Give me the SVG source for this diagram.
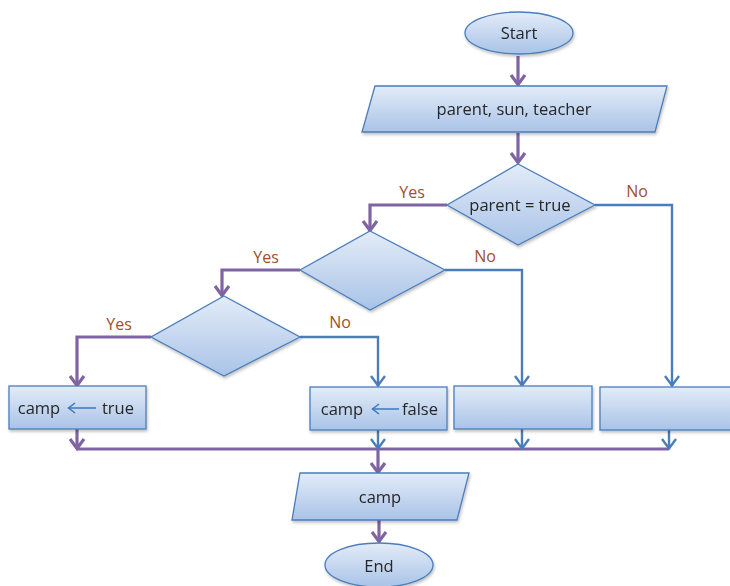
<svg xmlns="http://www.w3.org/2000/svg" width="730" height="586" viewBox="0 0 730 586">
<style>
.shape{fill:url(#g);stroke:#4a7ebb;stroke-width:1.3}
.t{font-family:"Open Sans","Liberation Sans",sans-serif;font-size:16.5px;fill:#262626;text-anchor:middle;dominant-baseline:central}
.lbl{font-family:"Open Sans","Liberation Sans",sans-serif;font-size:16px;fill:#a0502a;text-anchor:middle;dominant-baseline:central}
.p{fill:none;stroke:#8064a2;stroke-width:3.2}
.b{fill:none;stroke:#4a7ebb;stroke-width:2.4}
</style>
<defs>
<linearGradient id="g" x1="0" y1="0" x2="0" y2="1">
<stop offset="0" stop-color="#e3ecf8"/>
<stop offset="1" stop-color="#a9c3e7"/>
</linearGradient>
<filter id="sh" x="-10%" y="-10%" width="130%" height="140%">
<feDropShadow dx="1" dy="2" stdDeviation="1.5" flood-color="#000" flood-opacity="0.25"/>
</filter>
<marker id="ap" markerUnits="userSpaceOnUse" markerWidth="14" markerHeight="18" viewBox="0 0 14 18" refX="12" refY="9" orient="auto">
<path d="M2,2 L11.5,9 L2,16" fill="none" stroke="#8064a2" stroke-width="3.2"/>
</marker>
<marker id="ab" markerUnits="userSpaceOnUse" markerWidth="14" markerHeight="18" viewBox="0 0 14 18" refX="12" refY="9" orient="auto">
<path d="M2,2 L11.5,9 L2,16" fill="none" stroke="#4a7ebb" stroke-width="2.4"/>
</marker>
<marker id="as" markerUnits="userSpaceOnUse" markerWidth="10" markerHeight="12" viewBox="0 0 10 12" refX="9" refY="6" orient="auto">
<path d="M2,1 L8.5,6 L2,11" fill="none" stroke="#3c78c0" stroke-width="1.5"/>
</marker>
</defs>

<g id="connectors">
<line class="p" x1="518" y1="56" x2="518" y2="85" marker-end="url(#ap)"/>
<line class="p" x1="518" y1="133" x2="518" y2="163" marker-end="url(#ap)"/>
<polyline class="p" points="447,205 370,205 370,231" marker-end="url(#ap)"/>
<polyline class="b" points="595,205 672,205 672,386" marker-end="url(#ab)"/>
<polyline class="p" points="300,270 222,270 222,296" marker-end="url(#ap)"/>
<polyline class="b" points="445,270 522,270 522,386" marker-end="url(#ab)"/>
<polyline class="p" points="151,337 77,337 77,386" marker-end="url(#ap)"/>
<polyline class="b" points="300,337 378,337 378,386" marker-end="url(#ab)"/>
<line class="p" x1="77" y1="449" x2="669" y2="449"/>
<line class="p" x1="77" y1="429" x2="77" y2="449" marker-end="url(#ap)"/>
<line class="b" x1="378" y1="430" x2="378" y2="449" marker-end="url(#ab)"/>
<line class="b" x1="522" y1="429" x2="522" y2="449" marker-end="url(#ab)"/>
<line class="b" x1="669" y1="430" x2="669" y2="449" marker-end="url(#ab)"/>
<line class="p" x1="378" y1="449" x2="378" y2="473" marker-end="url(#ap)"/>
<line class="p" x1="379" y1="520" x2="379" y2="542" marker-end="url(#ap)"/>
<text class="lbl" x="412" y="192">Yes</text>
<text class="lbl" x="637" y="191">No</text>
<text class="lbl" x="266" y="257">Yes</text>
<text class="lbl" x="485" y="256">No</text>
<text class="lbl" x="119" y="324">Yes</text>
<text class="lbl" x="340" y="322">No</text>
</g>

<g id="start" filter="url(#sh)">
<ellipse class="shape" cx="519" cy="33" rx="54" ry="21"/>
<text class="t" x="519" y="32">Start</text>
</g>
<g id="input" filter="url(#sh)">
<polygon class="shape" points="375,86 667,86 655,132 362,132"/>
<text class="t" x="514" y="108">parent, sun, teacher</text>
</g>
<g id="decision1" filter="url(#sh)">
<polygon class="shape" points="518,164 595,205 518,245 447,205"/>
<text class="t" x="520" y="204">parent = true</text>
</g>
<g id="decision2" filter="url(#sh)">
<polygon class="shape" points="370,231 445,270 370,310 300,270"/>
</g>
<g id="decision3" filter="url(#sh)">
<polygon class="shape" points="224,296 300,337 224,376 151,337"/>
</g>
<g id="box1" filter="url(#sh)">
<rect class="shape" x="9" y="386" width="137" height="43"/>
<text class="t" x="39" y="407">camp</text>
<line x1="96" y1="408" x2="68" y2="408" stroke="#3c78c0" stroke-width="1.5" marker-end="url(#as)"/>
<text class="t" x="118" y="407">true</text>
</g>
<g id="box2" filter="url(#sh)">
<rect class="shape" x="310" y="387" width="137" height="43"/>
<text class="t" x="342" y="408">camp</text>
<line x1="399" y1="409" x2="372" y2="409" stroke="#3c78c0" stroke-width="1.5" marker-end="url(#as)"/>
<text class="t" x="420" y="408">false</text>
</g>
<g id="box3" filter="url(#sh)">
<rect class="shape" x="454" y="386" width="138" height="43"/>
</g>
<g id="box4" filter="url(#sh)">
<rect class="shape" x="600" y="387" width="140" height="43"/>
</g>
<g id="output" filter="url(#sh)">
<polygon class="shape" points="300,473 469,473 457,520 292,520"/>
<text class="t" x="380" y="496">camp</text>
</g>
<g id="end" filter="url(#sh)">
<ellipse class="shape" cx="379" cy="565" rx="54" ry="22"/>
<text class="t" x="379" y="565">End</text>
</g>
</svg>
